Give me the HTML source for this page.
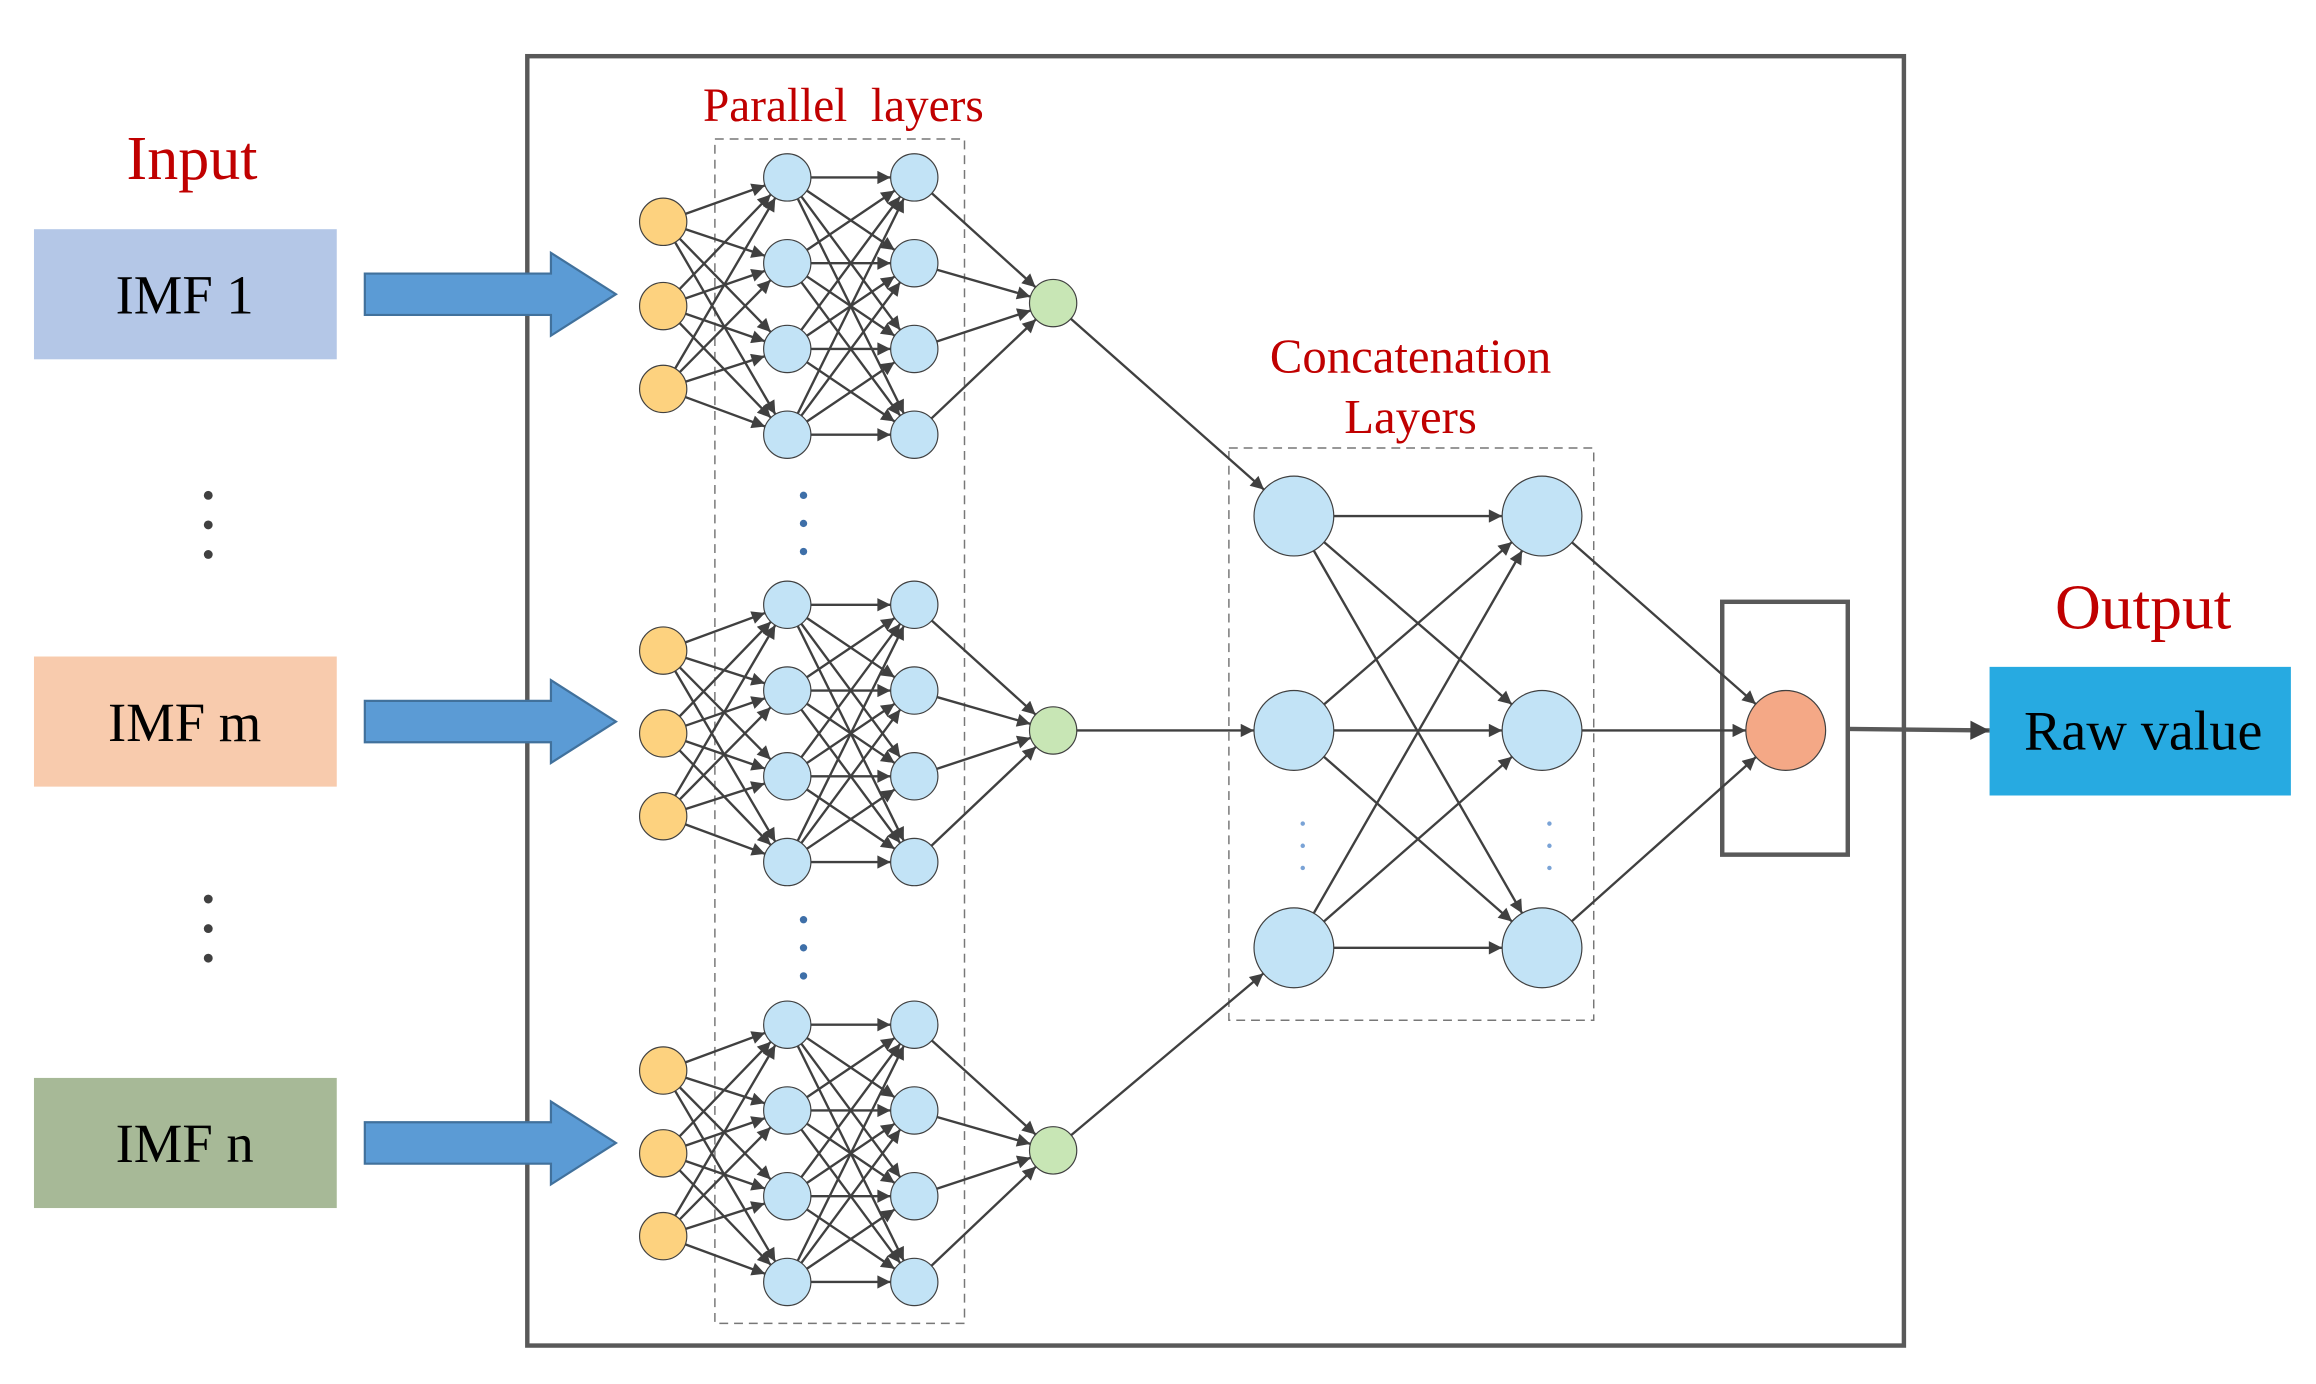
<!DOCTYPE html>
<html><head><meta charset="utf-8">
<style>html,body{margin:0;padding:0;background:#fff;width:2316px;height:1384px;overflow:hidden}svg{display:block}</style>
</head><body>
<svg id="s" width="2316" height="1384" viewBox="0 0 1568 936" preserveAspectRatio="none" xmlns="http://www.w3.org/2000/svg">
<defs>
<marker id="a" viewBox="0 0 10 10" refX="10" refY="5" markerWidth="10" markerHeight="9" markerUnits="userSpaceOnUse" orient="auto"><path d="M0,0 L10,5 L0,10 Z" fill="#404040"/></marker>
<marker id="b" viewBox="0 0 10 10" refX="10" refY="5" markerWidth="14" markerHeight="13" markerUnits="userSpaceOnUse" orient="auto"><path d="M0,0 L10,5 L0,10 Z" fill="#404040"/></marker>
</defs>
<rect x="357" y="38" width="932" height="872" fill="none" stroke="#595959" stroke-width="3"/>
<g font-family="Liberation Serif, serif">
<text x="130" y="121" font-size="42" fill="#c00000" text-anchor="middle">Input</text>
<rect x="23" y="155" width="205" height="88" fill="#b4c7e7"/>
<text x="125" y="212" font-size="37" text-anchor="middle">IMF 1</text>
<rect x="23" y="444" width="205" height="88" fill="#f8cbad"/>
<text x="125" y="501" font-size="37" text-anchor="middle">IMF m</text>
<rect x="23" y="729" width="205" height="88" fill="#a7b997"/>
<text x="125" y="786" font-size="37" text-anchor="middle">IMF n</text>
<text x="571" y="82" font-size="32" fill="#c00000" text-anchor="middle" xml:space="preserve">Parallel  layers</text>
<text x="955" y="252" font-size="33" fill="#c00000" text-anchor="middle">Concatenation</text>
<text x="955" y="293" font-size="33" fill="#c00000" text-anchor="middle">Layers</text>
<text x="1451" y="425" font-size="43" fill="#c00000" text-anchor="middle">Output</text>
<rect x="1347" y="451" width="204" height="87" fill="#27aae1"/>
<text x="1451" y="507" font-size="38" text-anchor="middle">Raw value</text>
</g>
<g fill="#404040"><circle cx="141" cy="335" r="3"/><circle cx="141" cy="355" r="3"/><circle cx="141" cy="375" r="3"/><circle cx="141" cy="608" r="3"/><circle cx="141" cy="628" r="3"/><circle cx="141" cy="648" r="3"/></g>
<g fill="#3e6fa8"><circle cx="544" cy="335" r="2.5"/><circle cx="544" cy="354" r="2.5"/><circle cx="544" cy="373" r="2.5"/><circle cx="544" cy="622" r="2.5"/><circle cx="544" cy="641" r="2.5"/><circle cx="544" cy="660" r="2.5"/></g>
<g fill="#7aa3d6"><circle cx="882" cy="557" r="1.5"/><circle cx="882" cy="572" r="1.5"/><circle cx="882" cy="587" r="1.5"/><circle cx="1049" cy="557" r="1.5"/><circle cx="1049" cy="572" r="1.5"/><circle cx="1049" cy="587" r="1.5"/></g>
<rect x="484" y="94" width="169" height="801" fill="none" stroke="#777" stroke-dasharray="6,4"/>
<rect x="832" y="303" width="247" height="387" fill="none" stroke="#777" stroke-dasharray="6,4"/>
<rect x="1166" y="407" width="85" height="171" fill="none" stroke="#595959" stroke-width="3"/>
<g id="arrows"></g>
<g id="lines" stroke="#404040" stroke-width="1.6" fill="none"></g>
<g id="nodes" stroke="#404040" stroke-width="0.8"></g>
<line x1="1251" y1="493" x2="1347" y2="494" stroke="#595959" stroke-width="3" marker-end="url(#b)"/>
</svg>
<script>
var NS="http://www.w3.org/2000/svg";
function el(p,t,a){var e=document.createElementNS(NS,t);for(var k in a)e.setAttribute(k,a[k]);document.getElementById(p).appendChild(e);return e;}
function conn(x1,y1,r1,x2,y2,r2){var dx=x2-x1,dy=y2-y1,d=Math.hypot(dx,dy);el("lines","line",{x1:x1+dx/d*r1,y1:y1+dy/d*r1,x2:x2-dx/d*r2,y2:y2-dy/d*r2,"marker-end":"url(#a)"});}
function node(x,y,r,f){el("nodes","circle",{cx:x,cy:y,r:r,fill:f});}
[199,488,773].forEach(function(c){el("arrows","path",{d:"M247,"+(c-14)+" L373,"+(c-14)+" L373,"+(c-28)+" L417,"+c+" L373,"+(c+28)+" L373,"+(c+14)+" L247,"+(c+14)+" Z",fill:"#5b9bd5",stroke:"#41719c","stroke-width":1.5});});
var groups=[{i:[150,207,263],h:[120,178,236,294],o:205},{i:[440,496,552],h:[409,467,525,583],o:494},{i:[724,780,836],h:[693,751,809,867],o:778}];
var R=16;
groups.forEach(function(g){
 g.i.forEach(function(a){g.h.forEach(function(b){conn(449,a,R,533,b,R);});});
 g.h.forEach(function(a){g.h.forEach(function(b){conn(533,a,R,619,b,R);});});
 g.h.forEach(function(a){conn(619,a,R,713,g.o,R);});
 g.i.forEach(function(a){node(449,a,R,"#fdd27f");});
 g.h.forEach(function(a){node(533,a,R,"#c2e3f6");node(619,a,R,"#c2e3f6");});
 node(713,g.o,R,"#c8e6b5");
});
var C=[349,494,641];
groups.forEach(function(g,i){conn(713,g.o,R,876,C[i],27);});
C.forEach(function(a){C.forEach(function(b){conn(876,a,27,1044,b,27);});conn(1044,a,27,1209,494,27);});
C.forEach(function(a){node(876,a,27,"#c2e3f6");node(1044,a,27,"#c2e3f6");});
node(1209,494,27,"#f4a886");
</script>
</body></html>
